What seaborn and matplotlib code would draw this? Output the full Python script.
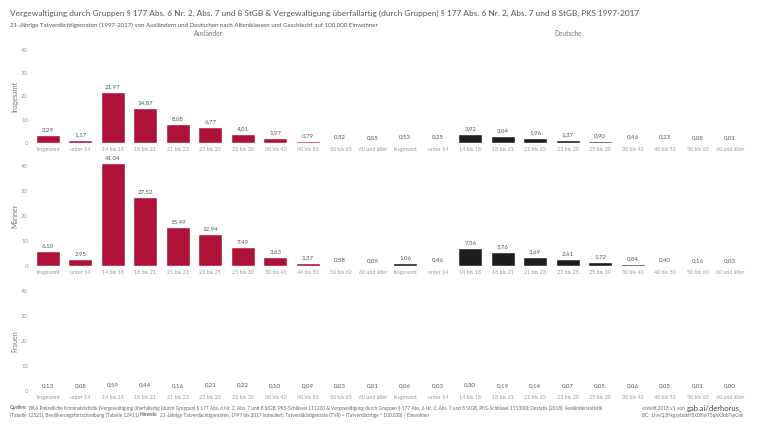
import matplotlib
matplotlib.use("Agg")
import matplotlib.pyplot as plt
import seaborn as sns
import pandas as pd

sns.set_theme(style="white")
plt.rcParams['font.family'] = ['Lato', 'DejaVu Sans']

ages = ["Insgesamt", "unter 14", "14 bis 18", "18 bis 21", "21 bis 23", "23 bis 25",
        "25 bis 30", "30 bis 40", "40 bis 50", "50 bis 60", "60 und älter"]
groups = ["Ausländer", "Deutsche"]
rows = ["Insgesamt", "Männer", "Frauen"]

insg_ausl = [3.29, 1.17, 21.97, 14.87, 8.08, 6.77, 4.01, 1.97, 0.79, 0.32, 0.05]
insg_deut = [0.53, 0.25, 3.92, 3.04, 1.96, 1.37, 0.90, 0.46, 0.23, 0.08, 0.01]
maen_ausl = [6.10, 2.95, 41.04, 27.52, 15.49, 12.94, 7.49, 3.63, 1.37, 0.58, 0.09]
maen_deut = [1.06, 0.46, 7.36, 5.76, 3.69, 2.61, 1.72, 0.84, 0.40, 0.16, 0.03]
frau_ausl = [0.13, 0.08, 0.59, 0.44, 0.16, 0.21, 0.22, 0.10, 0.09, 0.03, 0.01]
frau_deut = [0.06, 0.03, 0.30, 0.19, 0.14, 0.07, 0.05, 0.06, 0.05, 0.01, 0.00]

data = {"Insgesamt": (insg_ausl, insg_deut),
        "Männer": (maen_ausl, maen_deut),
        "Frauen": (frau_ausl, frau_deut)}

RED = "#AE1237"
BLACK = "#1E1E1E"
palette = {"Ausländer": RED, "Deutsche": BLACK}

W, H = 768, 432
fig = plt.figure(figsize=(W / 100, H / 100), dpi=100)
fig.patch.set_facecolor("white")

# pixel geometry: (zero-line y, px per 40 units)
geom = {"Insgesamt": (143, 93), "Männer": (266, 100), "Frauen": (391, 100)}
ax_left, ax_right = 35, 745
c0, c21 = 48, 730
ppu = (c21 - c0) / 21.0
xlim = (-(c0 - ax_left) / ppu, 21 + (ax_right - c21) / ppu)
ymax = 44.0

cats = [f"{g}|{a}" for g in groups for a in ages]

for r in rows:
    a_vals, d_vals = data[r]
    df = pd.DataFrame({
        "cat": cats,
        "wert": list(a_vals) + list(d_vals),
        "gruppe": ["Ausländer"] * len(ages) + ["Deutsche"] * len(ages),
    })
    zero, p40 = geom[r]
    ppv = p40 / 40.0
    height_px = ymax * ppv
    ax = fig.add_axes([ax_left / W, (H - zero) / H, (ax_right - ax_left) / W, height_px / H])
    sns.barplot(data=df, x="cat", y="wert", hue="gruppe", order=cats, palette=palette,
                dodge=False, width=0.74, saturation=1, legend=False, ax=ax)
    for cont in ax.containers:
        ax.bar_label(cont, fmt=lambda v: f"{v:.2f}".replace(".", ","), padding=2,
                     fontsize=4.4, color="#555555")
    ax.set_xlim(*xlim)
    ax.set_ylim(0, ymax)
    ax.set_yticks([0, 10, 20, 30, 40])
    ax.set_yticklabels(["0", "10", "20", "30", "40"])
    ax.set_xticks(range(len(cats)))
    ax.set_xticklabels(ages * 2)
    ax.tick_params(axis="x", length=0, pad=3, labelsize=3.9, labelcolor="#9a9a9a")
    ax.tick_params(axis="y", length=0, pad=5, labelsize=4.3, labelcolor="#9a9a9a")
    ax.set_xlabel("")
    ax.set_ylabel(r, fontsize=5, color="#777777")
    ax.yaxis.set_label_coords(-(35 - 18) / (ax_right - ax_left), 20 / ymax)
    for s in ax.spines.values():
        s.set_visible(False)
    ax.set_facecolor("none")
    ax.grid(False)

# headers
fig.text(209 / W, 1 - 33 / H, "Ausländer", fontsize=4.8, color="#777777", ha="center", va="center")
fig.text(568 / W, 1 - 33 / H, "Deutsche", fontsize=4.8, color="#777777", ha="center", va="center")

fig.text(10 / W, 1 - 13 / H,
         "Vergewaltigung durch Gruppen § 177 Abs. 6 Nr. 2, Abs. 7 und 8 StGB & Vergewaltigung überfallartig "
         "(durch Gruppen) § 177 Abs. 6 Nr. 2, Abs. 7 und 8 StGB, PKS 1997-2017",
         fontsize=5.95, color="#555555", ha="left", va="center")
fig.text(10 / W, 1 - 25 / H,
         "21-Jährige Tatverdächtigenraten (1997-2017) von Ausländern und Deutschen nach Altersklassen "
         "und Geschlecht auf 100.000 Einwohner",
         fontsize=4.45, color="#555555", ha="left", va="center")

# footer with bold parts
renderer = fig.canvas.get_renderer()
FS = 3.45
def seq(x_px, y_px, parts):
    x = x_px / W
    for txt, bold in parts:
        t = fig.text(x, 1 - y_px / H, txt, fontsize=FS, color="#666666",
                     fontweight="bold" if bold else "normal", ha="left", va="center")
        bb = t.get_window_extent(renderer=renderer)
        x = (bb.x1 + 1.2) / W

seq(10, 408, [("Quellen:", True),
              ("BKA Polizeiliche Kriminalstatistik (Vergewaltigung überfallartig (durch Gruppen) § 177 Abs. 6 Nr. 2, "
               "Abs. 7 und 8 StGB, PKS-Schlüssel 111200 & Vergewaltigung durch Gruppen § 177 Abs. 6 Nr. 2, Abs. 7 "
               "und 8 StGB, PKS-Schlüssel 111300); Destatis (2018): Ausländerstatistik", False)])
seq(10, 415, [("(Tabelle 12521), Bevölkerungsfortschreibung (Tabelle 12411)", False),
              ("Hinweis:", True),
              ("21-Jährige Tatverdächtigenraten, 1997 bis 2017 kumuliert; Tatverdächtigenrate (TVR) = "
               "(Tatverdächtige * 100.000) / Einwohner", False)])

t2 = fig.text(743 / W, 1 - 408 / H, "gab.ai/derhorus_", fontsize=5.5, color="#444444",
              ha="right", va="center")
bb = t2.get_window_extent(renderer=renderer)
fig.text((bb.x0 - 2) / W, 1 - 408.5 / H, "erstellt 2018 v1 von", fontsize=FS, color="#666666",
         ha="right", va="center")
fig.text(743 / W, 1 - 415 / H, "BC: 1JvyQ3HkgzybdkN5xDKwT5qhXJbbTwCek", fontsize=FS,
         color="#666666", ha="right", va="center")

fig.savefig("out.png", dpi=100, facecolor="white")
